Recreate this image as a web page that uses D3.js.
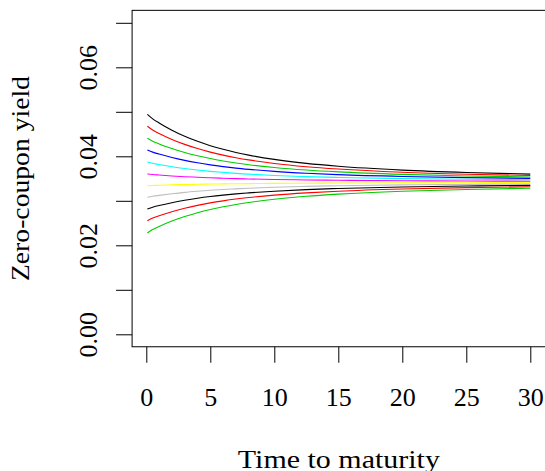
<!DOCTYPE html>
<html>
<head>
<meta charset="utf-8">
<script src="https://cdn.jsdelivr.net/npm/d3@7"></script>
<style>
  html, body { margin: 0; padding: 0; background: #fff; overflow: hidden; }
  svg { display: block; }
  text { font-family: "Liberation Serif", "Times New Roman", serif; fill: #000; }
</style>
</head>
<body>
<svg id="chart" width="545" height="471"></svg>
<script>
// Time to maturity (years)
const maturities = [0.083, 0.5, 1, 2, 3, 4, 5, 6, 7, 8, 10, 12.5, 15, 20, 25, 30];

// Zero-coupon yield curves, one per starting short rate (top to bottom)
const curve1  = [0.04944, 0.04842, 0.04749, 0.04587, 0.04450, 0.04336, 0.04239, 0.04157, 0.04087, 0.04027, 0.03930, 0.03841, 0.03776, 0.03690, 0.03636, 0.03600];
const curve2  = [0.04674, 0.04590, 0.04514, 0.04380, 0.04268, 0.04174, 0.04094, 0.04026, 0.03969, 0.03919, 0.03839, 0.03766, 0.03713, 0.03641, 0.03597, 0.03568];
const curve3  = [0.04404, 0.04338, 0.04278, 0.04173, 0.04085, 0.04011, 0.03949, 0.03896, 0.03850, 0.03811, 0.03749, 0.03691, 0.03649, 0.03593, 0.03559, 0.03535];
const curve4  = [0.04142, 0.04094, 0.04050, 0.03972, 0.03908, 0.03854, 0.03808, 0.03769, 0.03735, 0.03707, 0.03661, 0.03619, 0.03588, 0.03547, 0.03521, 0.03504];
const curve5  = [0.03872, 0.03842, 0.03814, 0.03766, 0.03725, 0.03691, 0.03662, 0.03638, 0.03617, 0.03599, 0.03570, 0.03544, 0.03524, 0.03499, 0.03483, 0.03472];
const curve6  = [0.03602, 0.03590, 0.03579, 0.03559, 0.03542, 0.03529, 0.03517, 0.03507, 0.03499, 0.03491, 0.03480, 0.03469, 0.03461, 0.03451, 0.03444, 0.03440];
const curve7  = [0.03339, 0.03344, 0.03349, 0.03358, 0.03365, 0.03371, 0.03376, 0.03380, 0.03383, 0.03386, 0.03392, 0.03396, 0.03399, 0.03404, 0.03407, 0.03409];
const curve8  = [0.03079, 0.03102, 0.03122, 0.03158, 0.03189, 0.03214, 0.03236, 0.03254, 0.03269, 0.03283, 0.03304, 0.03324, 0.03339, 0.03358, 0.03370, 0.03378];
const curve9  = [0.02817, 0.02857, 0.02894, 0.02958, 0.03011, 0.03057, 0.03095, 0.03127, 0.03155, 0.03178, 0.03216, 0.03252, 0.03277, 0.03311, 0.03332, 0.03347];
const curve10 = [0.02553, 0.02611, 0.02664, 0.02756, 0.02833, 0.02898, 0.02953, 0.02999, 0.03039, 0.03073, 0.03128, 0.03178, 0.03215, 0.03264, 0.03295, 0.03315];
const curve11 = [0.02276, 0.02353, 0.02422, 0.02544, 0.02645, 0.02731, 0.02804, 0.02865, 0.02918, 0.02963, 0.03035, 0.03102, 0.03150, 0.03215, 0.03255, 0.03282];

const curves = [curve1, curve2, curve3, curve4, curve5, curve6, curve7, curve8, curve9, curve10, curve11];
const curveColors = ["#000000", "#FF0000", "#00CD00", "#0000FF", "#00FFFF", "#FF00FF", "#FFFF00", "#BEBEBE", "#000000", "#FF0000", "#00CD00"];

const xTicks = [0, 5, 10, 15, 20, 25, 30];
const yTicks = [0, 0.01, 0.02, 0.03, 0.04, 0.05, 0.06, 0.07];
const yTickLabels = ["0.00", "", "0.02", "", "0.04", "", "0.06", ""];
const xTitle = "Time to maturity";
const yTitle = "Zero-coupon yield";

const svg = d3.select("#chart");

const x = d3.scaleLinear().domain([0, 30]).range([146.3, 530.3]);
const y = d3.scaleLinear().domain([0, 0.07]).range([334.3, 22.8]);

const boxL = x(-1.11), boxR = x(31.2), boxT = y(0.0728), boxB = y(-0.0028);

// curves
const line = d3.line()
  .x((d, i) => x(maturities[i]))
  .y(d => y(d))
  .curve(d3.curveMonotoneX);

svg.append("g").selectAll("path")
  .data(curves)
  .join("path")
  .attr("d", d => line(d))
  .attr("fill", "none")
  .attr("stroke", (d, i) => curveColors[i])
  .attr("stroke-width", 1.1);

// box
svg.append("rect")
  .attr("x", boxL).attr("y", boxT)
  .attr("width", boxR - boxL).attr("height", boxB - boxT)
  .attr("fill", "none").attr("stroke", "#000").attr("stroke-width", 1);

// x axis
const xAxis = d3.axisBottom(x).tickValues(xTicks).tickSize(16).tickPadding(24)
  .tickFormat(d3.format("d"));
const gx = svg.append("g").attr("transform", `translate(0,${boxB})`).call(xAxis);
gx.select(".domain").remove();
gx.selectAll(".tick line").attr("stroke", "#000");
gx.selectAll(".tick text")
  .attr("font-size", 26)
  .attr("font-family", "Liberation Serif, serif")
  .attr("dy", null)
  .attr("y", 59);

// y axis
const yAxis = d3.axisLeft(y).tickValues(yTicks).tickSize(16)
  .tickFormat((d, i) => yTickLabels[i]);
const gy = svg.append("g").attr("transform", `translate(${boxL},0)`).call(yAxis);
gy.select(".domain").remove();
gy.selectAll(".tick line").attr("stroke", "#000");
gy.selectAll(".tick text")
  .attr("font-size", 26)
  .attr("font-family", "Liberation Serif, serif")
  .attr("x", null).attr("dy", null)
  .attr("text-anchor", "middle")
  .attr("transform", `translate(${96.5 - boxL},0) rotate(-90)`);

// titles
svg.append("text")
  .attr("x", (boxL + boxR) / 2).attr("y", 467.5)
  .attr("text-anchor", "middle")
  .attr("font-size", 26)
  .attr("textLength", 202).attr("lengthAdjust", "spacingAndGlyphs")
  .text(xTitle);

svg.append("text")
  .attr("transform", `translate(28.5,${(boxT + boxB) / 2}) rotate(-90)`)
  .attr("text-anchor", "middle")
  .attr("font-size", 26)
  .attr("textLength", 205).attr("lengthAdjust", "spacingAndGlyphs")
  .text(yTitle);
</script>
</body>
</html>
